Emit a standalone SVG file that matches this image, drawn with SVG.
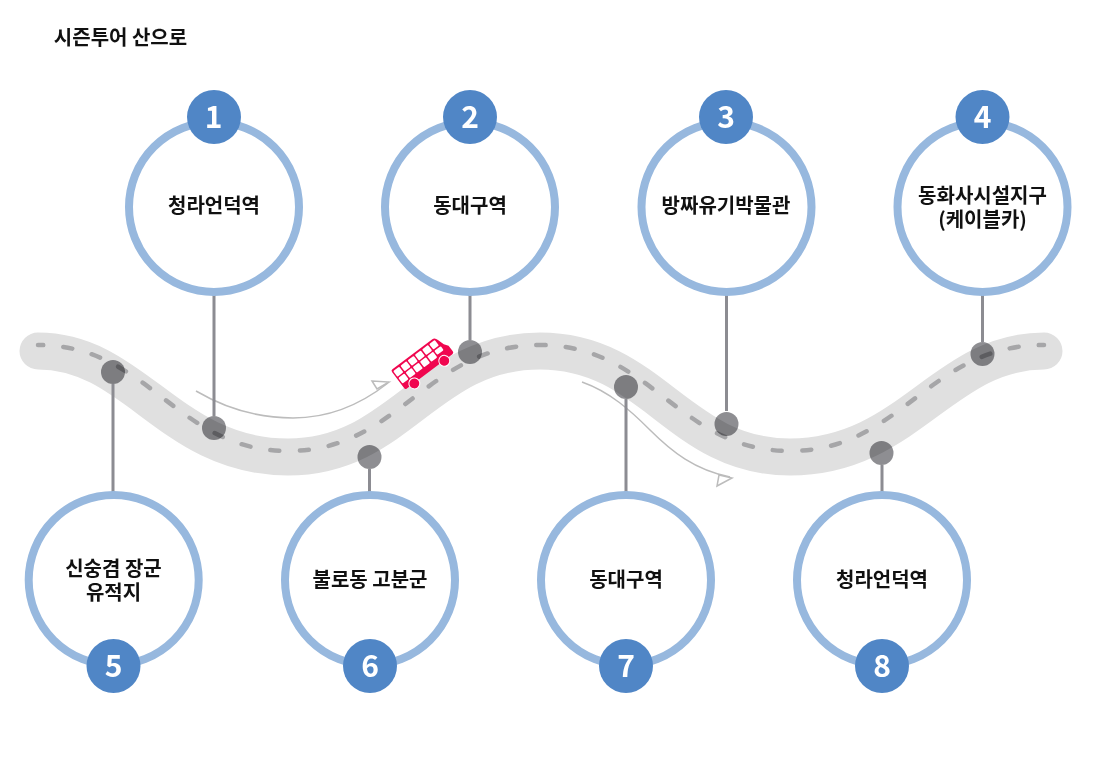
<svg xmlns="http://www.w3.org/2000/svg" width="1096" height="776" viewBox="0 0 1096 776">
<style>
text{font-family:"Noto Sans CJK KR","Noto Sans",sans-serif;text-anchor:middle;fill:#111;font-size:20px;font-weight:700}
.ring{fill:#fff;stroke:#97b8de;stroke-width:8}
.badge{fill:#5086c6}
.num{fill:#fff;font-size:30px;font-weight:700}
.stem{stroke:#8c8c92;stroke-width:3;fill:none}
.dot{fill:#8e8e92;mix-blend-mode:multiply}
.road{fill:none;stroke:#e0e0e0;stroke-width:37;stroke-linecap:round}
.dash{fill:none;stroke:#a6a6a8;stroke-width:4.500;stroke-linecap:round;stroke-dasharray:9 20}
.flow{fill:none;stroke:#bcbcbc;stroke-width:1.500}
.head{fill:#fff;stroke:#bcbcbc;stroke-width:1.500}
.win{fill:#fff}
</style>
<text x="120.500" y="45" id="title">시즌투어 산으로</text>
<g id="road">
<path class="road" d="M38 351C135 351 170 457 288 457C400 457 426 351 540 351C652 351 678 457 790 457C908 457 943 351 1044 351"/>
<path class="dash" pathLength="1103" stroke-dashoffset="4" d="M38 345C150 345 176 451 288 451C400 451 426 345 540 345C652 345 678 451 790 451C902 451 928 345 1044 345"/>
</g>
<g id="connectors">
<path class="flow" d="M196 391C225 408 255 418 293 418C330 418 360 405 388 383"/>
<path class="head" d="M372 381L389 382L377 389Z"/>
<path class="flow" d="M582 382C610 392 630 410 650 430C672 452 695 470 730 477"/>
<path class="head" d="M719 475L732 478L717 486Z"/>
<path class="stem" d="M214 295V416M470 295V340M726.500 295V411M982.500 295V342M113 384V492M369.500 469V492M626 399V492M882 465V492"/>
</g>
<g id="stops">
<circle class="dot" cx="214" cy="428" r="12"/>
<circle class="dot" cx="470" cy="352" r="12"/>
<circle class="dot" cx="726.500" cy="424" r="12"/>
<circle class="dot" cx="982.500" cy="354" r="12"/>
<circle class="dot" cx="113" cy="372" r="12"/>
<circle class="dot" cx="369.500" cy="457" r="12"/>
<circle class="dot" cx="626" cy="387" r="12"/>
<circle class="dot" cx="881.500" cy="453" r="12"/>
</g>
<g id="bus" transform="translate(421 364) rotate(-37)">
<path fill="#f0064f" d="M-28-11Q-28-13-26-13H24Q27-13 28-9L30-2L33 2V9Q33 11 31 11H-26Q-28 11-28 9Z"/>
<g class="win">
<rect x="-26.500" y="-11" width="7.500" height="7" rx="1"/><rect x="-17.500" y="-11" width="7.500" height="7" rx="1"/><rect x="-8.500" y="-11" width="7.500" height="7" rx="1"/><rect x=".5" y="-11" width="7.500" height="7" rx="1"/><rect x="9.500" y="-11" width="7.500" height="7" rx="1"/><rect x="18.500" y="-11" width="7" height="7" rx="1"/>
<rect x="-26.500" y="-2.500" width="7.500" height="7" rx="1"/><rect x="-17.500" y="-2.500" width="7.500" height="7" rx="1"/><rect x="-8.500" y="-2.500" width="7.500" height="7" rx="1"/><rect x=".5" y="-2.500" width="7.500" height="7" rx="1"/><rect x="9.500" y="-2.500" width="7.500" height="7" rx="1"/><rect x="18.500" y="-2.500" width="8" height="5" rx="1"/>
</g>
<circle cx="-17" cy="11.500" r="5.500" fill="#f0064f" stroke="#fff" stroke-width="1"/>
<circle cx="20.500" cy="11.500" r="5.500" fill="#f0064f" stroke="#fff" stroke-width="1"/>
</g>
<g id="node1"><circle class="ring" cx="214" cy="207" r="85"/><circle class="badge" cx="214" cy="117" r="27"/><text class="num" x="213.500" y="128">1</text><text x="214" y="213">청라언덕역</text></g>
<g id="node2"><circle class="ring" cx="470" cy="207" r="85"/><circle class="badge" cx="470" cy="117" r="27"/><text class="num" x="470" y="128">2</text><text x="470" y="213">동대구역</text></g>
<g id="node3"><circle class="ring" cx="726.500" cy="207" r="85"/><circle class="badge" cx="726" cy="117" r="27"/><text class="num" x="726" y="128">3</text><text x="726" y="213">방짜유기박물관</text></g>
<g id="node4"><circle class="ring" cx="982.500" cy="207" r="85"/><circle class="badge" cx="982.500" cy="117" r="27"/><text class="num" x="982.500" y="128">4</text><text x="982.500" y="203">동화사시설지구</text><text x="982.500" y="227">(케이블카)</text></g>
<g id="node5"><circle class="ring" cx="113.700" cy="580" r="85"/><circle class="badge" cx="113.500" cy="666" r="27"/><text class="num" x="113.500" y="677">5</text><text x="113.500" y="576">신숭겸 장군</text><text x="113.500" y="600">유적지</text></g>
<g id="node6"><circle class="ring" cx="370" cy="580" r="85"/><circle class="badge" cx="370" cy="666" r="27"/><text class="num" x="370" y="677">6</text><text x="370" y="587">불로동 고분군</text></g>
<g id="node7"><circle class="ring" cx="626" cy="580" r="85"/><circle class="badge" cx="626" cy="666" r="27"/><text class="num" x="626" y="677">7</text><text x="626" y="587">동대구역</text></g>
<g id="node8"><circle class="ring" cx="882" cy="580" r="85"/><circle class="badge" cx="882" cy="666" r="27"/><text class="num" x="882" y="677">8</text><text x="882" y="587">청라언덕역</text></g>
</svg>
